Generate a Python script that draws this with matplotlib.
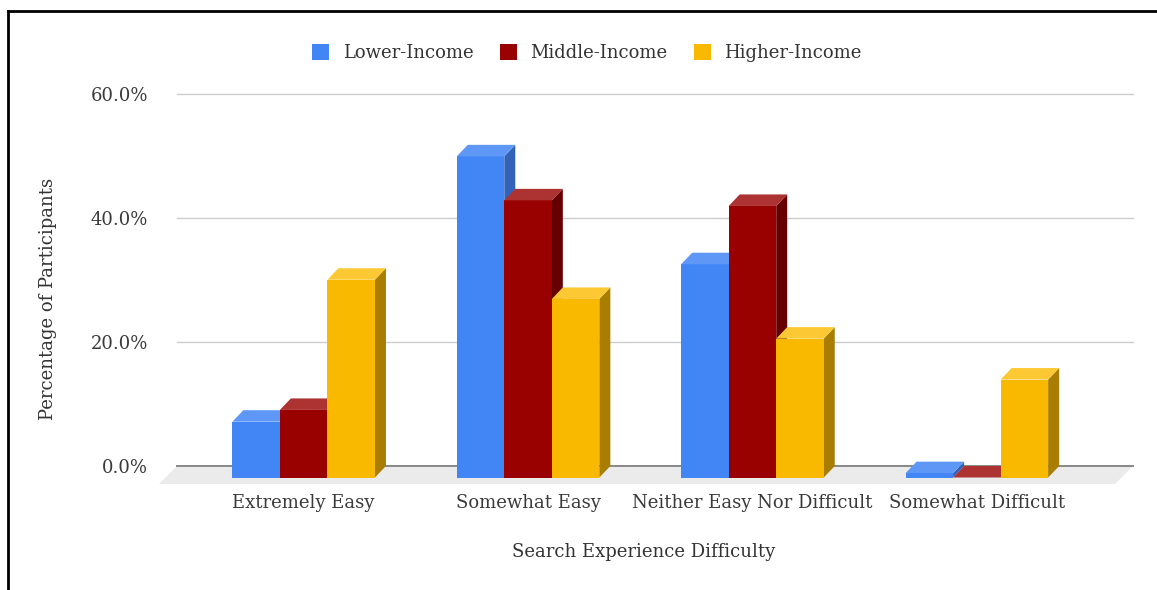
import numpy as np
import matplotlib
matplotlib.use("Agg")
import matplotlib.pyplot as plt
from matplotlib.patches import Polygon, Patch
from matplotlib.lines import Line2D

plt.rcParams['font.family'] = ['DejaVu Serif']

# survey results (% of participants per income group)
categories = ['Extremely Easy', 'Somewhat Easy', 'Neither Easy Nor Difficult', 'Somewhat Difficult']
series_names = ['Lower-Income', 'Middle-Income', 'Higher-Income']
lower_income = [9.0, 51.8, 34.4, 0.7]
middle_income = [10.9, 44.7, 43.8, 0.0]
higher_income = [31.9, 28.8, 22.4, 15.8]
y_ticks = [0, 20, 40, 60]
y_tick_labels = ['0.0%', '20.0%', '40.0%', '60.0%']

# front / top / side shades for each series
front_cols = ['#4285f4', '#990000', '#f9b900']
top_cols = ['#5e97f6', '#ad3333', '#fcc934']
side_cols = ['#3363b8', '#660000', '#a87d00']

W, H = 1157, 590
fig = plt.figure(figsize=(W / 100, H / 100), dpi=100)
fig.patch.set_facecolor('white')

# axes box in pixels: gridlines run 177..1133, 60% at y=94, 0% at y=466
ax = fig.add_axes([177 / W, (H - 466) / H, 956 / W, 372 / H])
xmin, xmax = -0.5644, 3.6958
ax.set_xlim(xmin, xmax)
ax.set_ylim(0, 60)
for sp in ax.spines.values():
    sp.set_visible(False)

# pseudo-3D depth of the bars and the floor, in data units
px_x = (xmax - xmin) / 956
px_y = 60 / 372
dx, dy = 11 * px_x, 11.5 * px_y
fdx, fdy = 18 * px_x, 18 * px_y

# floor slab under the plot
floor = Polygon([(xmin, 0), (xmax, 0), (xmax - fdx, -fdy), (xmin - fdx, -fdy)],
                closed=True, facecolor='#ebebeb', edgecolor='none', zorder=1, clip_on=False)
ax.add_patch(floor)

for v in y_ticks[1:]:
    ax.plot([xmin, xmax], [v, v], color='#cccccc', lw=1.0, zorder=2, clip_on=False)
ax.plot([xmin, xmax], [0, 0], color='#888888', lw=1.4, zorder=2, clip_on=False)

bar_w = 0.2118
x = np.arange(len(categories))
data = [lower_income, middle_income, higher_income]

z = 3
for gi in range(len(categories)):
    for si, vals in enumerate(data):
        v = vals[gi]
        x0 = x[gi] - 1.5 * bar_w + si * bar_w
        x1 = x0 + bar_w
        yb = -dy
        yt = v - dy
        front = Polygon([(x0, yb), (x1, yb), (x1, yt), (x0, yt)], closed=True,
                        facecolor=front_cols[si], edgecolor='none', zorder=z, clip_on=False)
        side = Polygon([(x1, yb), (x1 + dx, 0), (x1 + dx, v), (x1, yt)], closed=True,
                       facecolor=side_cols[si], edgecolor='none', zorder=z, clip_on=False)
        top = Polygon([(x0, yt), (x1, yt), (x1 + dx, v), (x0 + dx, v)], closed=True,
                      facecolor=top_cols[si], edgecolor='none', zorder=z, clip_on=False)
        for p in (side, front, top):
            ax.add_patch(p)
        z += 1

ax.set_yticks(y_ticks)
ax.set_yticklabels(y_tick_labels)
ax.set_xticks(x)
ax.set_xticklabels(categories)
ax.tick_params(axis='y', length=0, pad=21, labelsize=13, labelcolor='#3a3a3a')
ax.tick_params(axis='x', length=0, pad=20, labelsize=13, labelcolor='#3a3a3a')

ax.set_ylabel('Percentage of Participants', fontsize=13, color='#333333')
ax.yaxis.set_label_coords(-0.1349, 0.449)
ax.yaxis.label.set_va('center')
ax.set_xlabel('Search Experience Difficulty', fontsize=13, color='#333333')
ax.xaxis.set_label_coords(0.4885, -0.232)
ax.xaxis.label.set_va('center')

handles = [Patch(facecolor=c, edgecolor='none') for c in front_cols]
fig.legend(handles, series_names, loc='center', bbox_to_anchor=(587 / W, 1 - 53 / H),
           ncol=3, frameon=False, fontsize=13, handlelength=0.95, handleheight=0.95,
           handletextpad=0.75, columnspacing=1.45, labelcolor='#333333')

# outer frame: left and top edges
fig.add_artist(Line2D([8 / W, 8 / W], [0, 1 - 11 / H], color='black', lw=2.0,
                      transform=fig.transFigure))
fig.add_artist(Line2D([8 / W, 1], [1 - 11 / H, 1 - 11 / H], color='black', lw=2.0,
                      transform=fig.transFigure))

fig.savefig('out.png', dpi=100)
